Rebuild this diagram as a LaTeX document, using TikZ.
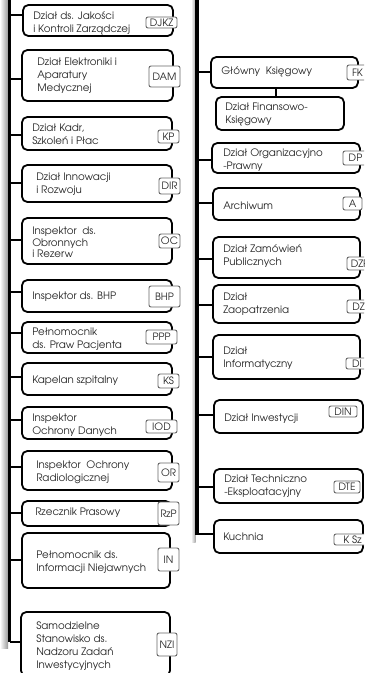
\documentclass[tikz,border=0pt]{standalone}
\usepackage{fontspec}
\setmainfont{TeX Gyre Adventor}
\definecolor{txtc}{HTML}{262626}
\definecolor{codec}{HTML}{666666}
\newcommand\mkbox[5]{\node[orgbox, minimum width={(#4-#2)*0.75pt}, minimum height={(#5-#3)*0.75pt}] (#1) at ({(#2+#4)/2},{(#3+#5)/2}) {};}
\newcommand\mkcode[6]{\node[codebox, minimum width={(#4-#2)*0.75pt}, minimum height={(#5-#3)*0.75pt}] (#1) at ({(#2+#4)/2},{(#3+#5)/2}) {#6};}
\begin{document}
\begin{tikzpicture}[x=0.75pt,y=-0.75pt,
  orgbox/.style={draw=black, line width=1.35pt, rounded corners=4pt, fill=white, inner sep=0pt},
  codebox/.style={draw=codec, line width=0.7pt, rounded corners=1.5pt, fill=white, inner sep=0pt, text=txtc, font=\fontsize{7.6}{8}\selectfont},
  txt/.style={anchor=west, align=left, inner sep=0pt, text=txtc, font=\fontsize{7.7}{9.75}\selectfont},
  conn/.style={draw=black, line width=1.5pt},
  spine/.style={draw=black, line width=2.8pt}]
\useasboundingbox (0,0) rectangle (364,673);
\clip (0,0) rectangle (364,673);
% spine shadows
\fill[left color=white, right color=black!40] (0,0) rectangle (8,648);
\fill[left color=white, right color=black!35] (191,0) rectangle (195.5,542);
% spines
\coordinate (spL-top) at (9.5,0);
\coordinate (spL-bot) at (9.5,642);
\coordinate (spR-top) at (197,0);
\coordinate (spR-bot) at (197,535);
\draw[spine] (spL-top) -- (spL-bot);
\draw[spine] (spR-top) -- (spR-bot);
% left boxes
\mkbox{djkz}{23}{5}{173}{36}
\mkbox{dam}{22}{50}{173}{101}
\mkbox{kp}{22}{117}{172}{150}
\mkbox{dir}{22}{165}{172}{202}
\mkbox{oc}{22}{218}{172}{264}
\mkbox{bhp}{22}{280}{172}{312}
\mkbox{ppp}{22}{322}{172}{353}
\mkbox{ks}{22}{363}{172}{395}
\mkbox{iod}{22}{407}{172}{439}
\mkbox{or}{22}{451}{172}{490}
\mkbox{rzp}{22}{501}{171}{526}
\mkbox{in}{22}{533}{170}{588}
\mkbox{nzi}{21}{612}{170}{676}
% right boxes
\mkbox{fk}{211}{57}{358}{88}
\mkbox{fin}{216}{97}{344}{130}
\mkbox{dp}{212}{143}{360}{173}
\mkbox{a}{213}{188}{360}{220}
\mkbox{dzp}{213}{237}{360}{278}
\mkbox{dz}{213}{285}{360}{323}
\mkbox{di}{213}{335}{360}{379}
\mkbox{din}{214}{400}{363}{433}
\mkbox{dte}{214}{469}{363}{503}
\mkbox{ksz}{214}{520}{363}{553}
% left connectors
\foreach \n/\y in {djkz/15,dam/79,kp/135,dir/183,oc/240,bhp/292,ppp/333,ks/377,iod/420,or/467,rzp/513,in/560,nzi/642}{
  \coordinate (c-\n) at (9.5,\y);
  \draw[conn] (c-\n) -- (c-\n -| \n.west);
}
% right connectors
\foreach \n/\y in {fk/72,dp/160,a/203,dzp/259,dz/305,di/357,din/415,dte/487,ksz/534}{
  \coordinate (c-\n) at (197,\y);
  \draw[conn] (c-\n) -- (c-\n -| \n.west);
}
\coordinate (fin-top) at (276,97);
\draw[conn] (fin-top) -- (fin-top |- fk.south);
% left texts
\node[txt] (t-djkz) at (33,23) {Dział ds. Jakości\\i Kontroli Zarządczej};
\node[txt] (t-dam) at (37,76) {Dział Elektroniki i\\Aparatury\\Medycznej};
\node[txt] (t-kp) at (32,134.5) {Dział Kadr,\\Szkoleń i Płac};
\node[txt] (t-dir) at (36,184.5) {Dział Innowacji\\i Rozwoju};
\node[txt, font=\fontsize{7.7}{8.7}\selectfont] (t-oc) at (32,242.5) {Inspektor\ \ ds.\\Obronnych\\i Rezerw};
\node[txt] (t-bhp) at (32,297) {Inspektor ds. BHP};
\node[txt] (t-ppp) at (32,339.5) {Pełnomocnik\\ds. Praw Pacjenta};
\node[txt] (t-ks) at (32,381) {Kapelan szpitalny};
\node[txt] (t-iod) at (32,425.5) {Inspektor\\Ochrony Danych};
\node[txt] (t-or) at (36,472) {Inspektor\ \ Ochrony\\Radiologicznej};
\node[txt] (t-rzp) at (35,513) {Rzecznik Prasowy};
\node[txt] (t-in) at (36,562) {Pełnomocnik ds.\\Informacji Niejawnych};
\node[txt] (t-nzi) at (36,646) {Samodzielne\\Stanowisko ds.\\Nadzoru Zadań\\Inwestycyjnych};
% right texts
\node[txt] (t-fk) at (221,72) {Główny\ \ Księgowy};
\node[txt] (t-fin) at (225,114) {Dział Finansowo-\\Księgowy};
\node[txt] (t-dp) at (223,160.5) {Dział Organizacyjno\\-Prawny};
\node[txt] (t-a) at (223,206) {Archiwum};
\node[txt] (t-dzp) at (223,256) {Dział Zamówień\\Publicznych};
\node[txt] (t-dz) at (223,304.5) {Dział\\Zaopatrzenia};
\node[txt] (t-di) at (223,358) {Dział\\Informatyczny};
\node[txt] (t-din) at (224,419) {Dział Inwestycji};
\node[txt] (t-dte) at (224,486.5) {Dział Techniczno\\-Eksploatacyjny};
\node[txt] (t-ksz) at (223,537) {Kuchnia};
% code boxes left
\mkcode{k-djkz}{146}{17}{177}{28}{DJKZ}
\mkcode{k-dam}{149}{66}{180}{87}{DAM}
\mkcode{k-kp}{158}{130}{179}{143}{KP}
\mkcode{k-dir}{159}{178}{180}{194}{DIR}
\mkcode{k-oc}{159}{234}{180}{248}{OC}
\mkcode{k-bhp}{149}{286}{180}{307}{BHP}
\mkcode{k-ppp}{146}{330}{177}{344}{PPP}
\mkcode{k-ks}{158}{374}{179}{388}{KS}
\mkcode{k-iod}{146}{420}{177}{433}{IOD}
\mkcode{k-or}{158}{463}{179}{482}{OR}
\mkcode{k-rzp}{158}{502}{179}{525}{RzP}
\mkcode{k-in}{158}{548}{179}{571}{IN}
\mkcode{k-nzi}{157}{633}{177}{656}{NZI}
% code boxes right
\mkcode{k-fk}{347}{65}{368}{80}{FK}
\mkcode{k-dp}{343}{151}{368}{165}{DP}
\mkcode{k-a}{343}{197}{362}{210}{A}
\mkcode{k-dzp}{347}{257}{373}{270}{DZP}
\mkcode{k-dz}{347}{300}{370}{313}{DZ}
\mkcode{k-di}{346}{358}{368}{369}{DI}
\mkcode{k-din}{329}{406}{357}{417}{DIN}
\mkcode{k-dte}{334}{481}{360}{493}{DTE}
\mkcode{k-ksz}{334}{534}{371}{545}{K Sz}
\end{tikzpicture}
\end{document}
